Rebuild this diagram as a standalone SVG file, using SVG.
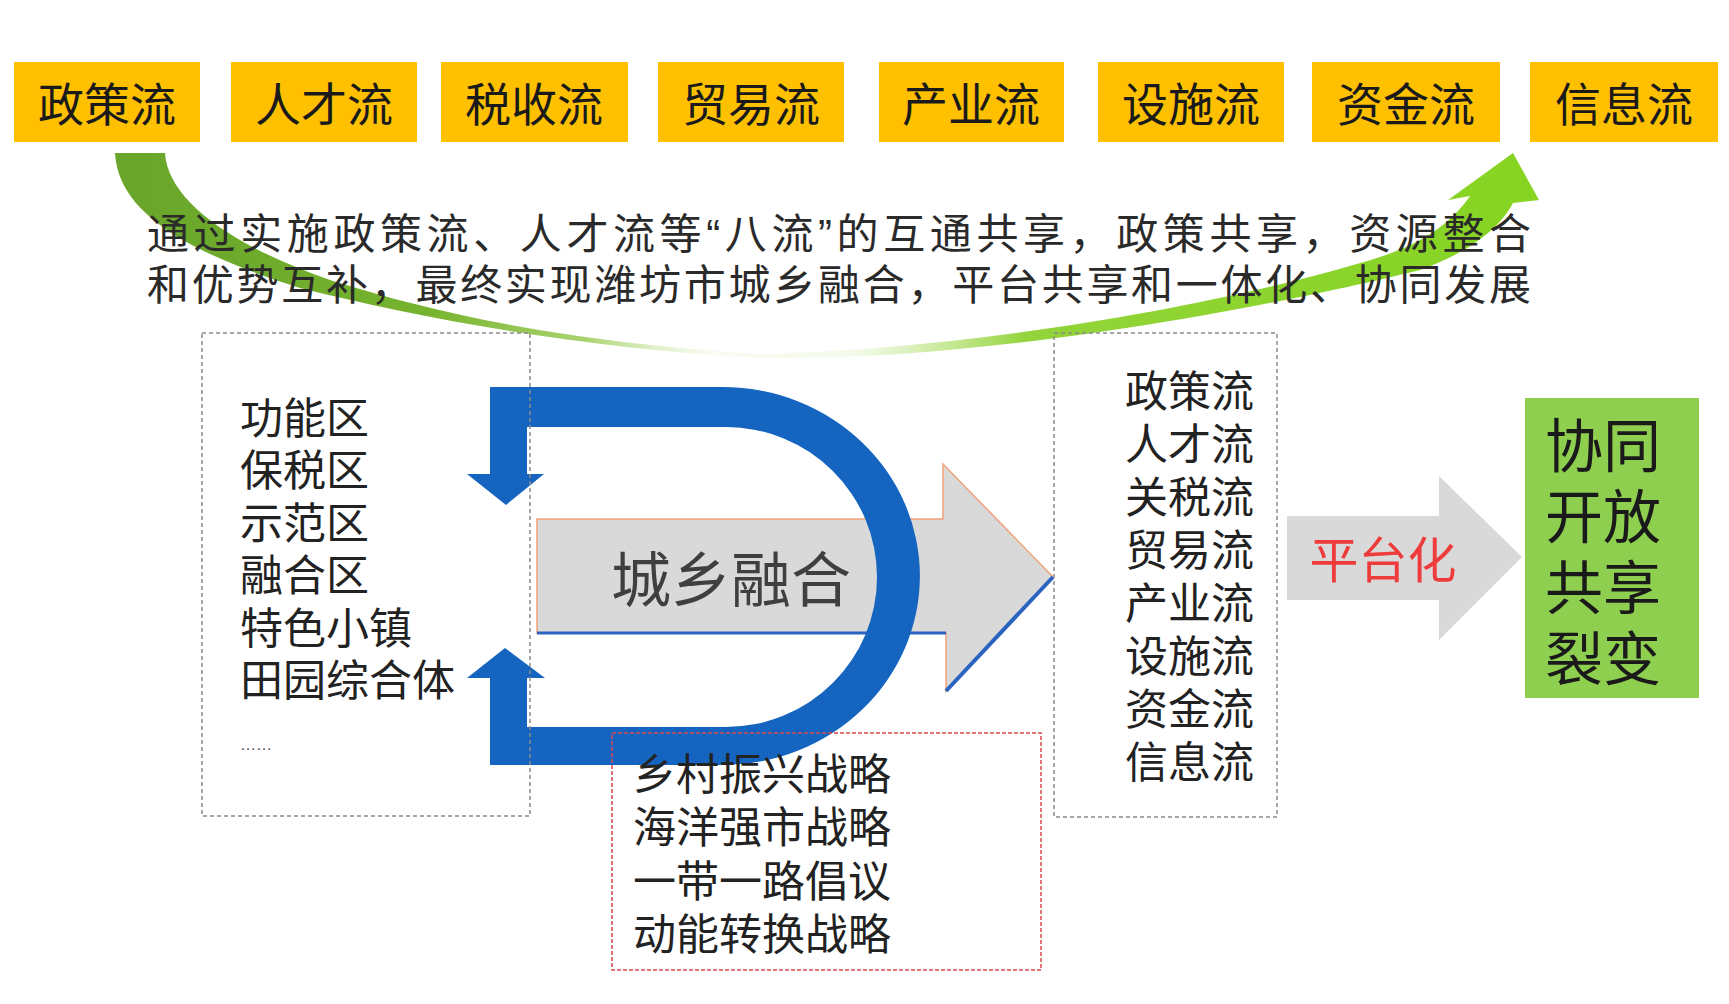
<svg xmlns="http://www.w3.org/2000/svg" width="1729" height="1004" viewBox="0 0 1729 1004">
<style>
text{font-family:"Liberation Sans","Noto Sans CJK SC",sans-serif;}
.flow{fill:#FFC000;}
.flowt{font-size:46px;fill:#1a1a1a;text-anchor:middle;dominant-baseline:central;}
.lst{font-size:43px;fill:#222;dominant-baseline:central;}
.para{font-size:42px;fill:#2a2a2a;dominant-baseline:central;}
.dbox{fill:none;stroke:#8a8a8a;stroke-width:1.5;stroke-dasharray:4 3;}
</style>
<defs>
<linearGradient id="gg" gradientUnits="userSpaceOnUse" x1="115" y1="0" x2="1539" y2="0">
<stop offset="0" stop-color="#68A52A"/>
<stop offset="0.22" stop-color="#76B32E"/>
<stop offset="0.33" stop-color="#8DC440" stop-opacity="0.75"/>
<stop offset="0.42" stop-color="#C8E69A" stop-opacity="0.12"/>
<stop offset="0.52" stop-color="#B5E070" stop-opacity="0.15"/>
<stop offset="0.64" stop-color="#92D43A"/>
<stop offset="1" stop-color="#86D421"/>
</linearGradient>
</defs>
<rect width="1729" height="1004" fill="#fff"/>

<g id="connectors">
<path id="green-arrow" fill="url(#gg)" d="M 115 153 C 118 210 180 250 300 288 C 430 320 580 348 760 358 C 1000 362 1300 300 1420 270 C 1470 252 1500 228 1513 203 L 1539 200 L 1513 153 L 1448 200 L 1470 196 C 1450 225 1420 244 1380 257 C 1250 298 1000 348 760 354 C 580 343 450 318 330 280 C 230 245 168 200 165 153 Z"/>
<polygon id="gray-arrow" points="537,519 943,519 943,464 1053,577 946,691 946,633 537,633" fill="#D9D9D9" stroke="#F0A27A" stroke-width="1.5"/>
<polyline points="537,633 946,633" fill="none" stroke="#2A64C0" stroke-width="3"/>
<polyline points="946,691 1053,577" fill="none" stroke="#2A64C0" stroke-width="4"/>
<path id="blue-loop" fill="#1565C0" d="M 490 387 L 723 387 A 197 189 0 0 1 723 765 L 490 765 L 490 678 L 467 678 L 505 648 L 545 678 L 527 678 L 527 727 L 726 727 A 151 150 0 0 0 726 427 L 527 427 L 527 474 L 544 474 L 506 505 L 467 474 L 490 474 Z"/>
<polygon id="platform-arrow" points="1287,516 1439,516 1439,476 1522,557 1439,640 1439,600 1287,600" fill="#D9D9D9"/>
</g>

<g id="flow1"><rect class="flow" x="14" y="62" width="186" height="80"/><text class="flowt" x="107" y="105">政策流</text></g>
<g id="flow2"><rect class="flow" x="231" y="62" width="186" height="80"/><text class="flowt" x="324" y="105">人才流</text></g>
<g id="flow3"><rect class="flow" x="441" y="62" width="187" height="80"/><text class="flowt" x="534" y="105">税收流</text></g>
<g id="flow4"><rect class="flow" x="658" y="62" width="186" height="80"/><text class="flowt" x="751" y="105">贸易流</text></g>
<g id="flow5"><rect class="flow" x="879" y="62" width="185" height="80"/><text class="flowt" x="971" y="105">产业流</text></g>
<g id="flow6"><rect class="flow" x="1098" y="62" width="186" height="80"/><text class="flowt" x="1191" y="105">设施流</text></g>
<g id="flow7"><rect class="flow" x="1312" y="62" width="188" height="80"/><text class="flowt" x="1406" y="105">资金流</text></g>
<g id="flow8"><rect class="flow" x="1530" y="62" width="188" height="80"/><text class="flowt" x="1624" y="105">信息流</text></g>

<g id="summary">
<text class="para"><tspan x="147" y="234" textLength="1384" lengthAdjust="spacing">通过实施政策流、人才流等“八流”的互通共享，政策共享，资源整合</tspan><tspan x="147" y="285" textLength="1384" lengthAdjust="spacing">和优势互补，最终实现潍坊市城乡融合，平台共享和一体化、协同发展</tspan></text>
</g>

<g id="zones">
<rect class="dbox" x="202" y="333" width="328" height="483"/>
<text class="lst"><tspan x="240" y="419">功能区</tspan><tspan x="240" y="471">保税区</tspan><tspan x="240" y="524">示范区</tspan><tspan x="240" y="576">融合区</tspan><tspan x="240" y="629">特色小镇</tspan><tspan x="240" y="681">田园综合体</tspan></text>
<text x="240" y="744" font-size="16" fill="#555" dominant-baseline="central">……</text>
</g>

<g id="fusion">
<text x="731" y="581" font-size="60" fill="#3F3F3F" text-anchor="middle" dominant-baseline="central">城乡融合</text>
</g>

<g id="strategies">
<rect x="612" y="733" width="429" height="237" fill="none" stroke="#E04848" stroke-width="1.5" stroke-dasharray="4 2"/>
<text class="lst"><tspan x="633" y="775">乡村振兴战略</tspan><tspan x="633" y="828">海洋强市战略</tspan><tspan x="633" y="882">一带一路倡议</tspan><tspan x="633" y="935">动能转换战略</tspan></text>
</g>

<g id="flows-list">
<rect class="dbox" x="1054" y="333" width="223" height="484"/>
<text class="lst"><tspan x="1125" y="392">政策流</tspan><tspan x="1125" y="445">人才流</tspan><tspan x="1125" y="498">关税流</tspan><tspan x="1125" y="551">贸易流</tspan><tspan x="1125" y="604">产业流</tspan><tspan x="1125" y="657">设施流</tspan><tspan x="1125" y="710">资金流</tspan><tspan x="1125" y="763">信息流</tspan></text>
</g>

<g id="platform">
<text x="1383" y="561" font-size="49" fill="#EE3B3B" text-anchor="middle" dominant-baseline="central">平台化</text>
</g>

<g id="result">
<rect x="1525" y="398" width="174" height="300" fill="#8FCF50"/>
<text font-size="58" fill="#1a1a1a" text-anchor="middle" dominant-baseline="central"><tspan x="1603" y="446">协同</tspan><tspan x="1603" y="517">开放</tspan><tspan x="1603" y="588">共享</tspan><tspan x="1603" y="659">裂变</tspan></text>
</g>
</svg>
